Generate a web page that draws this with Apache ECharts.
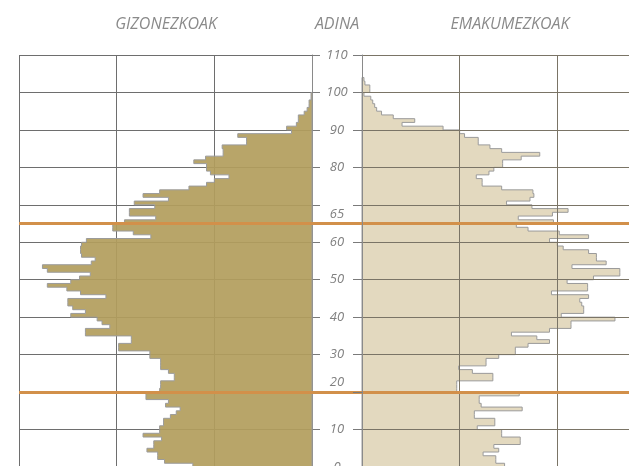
<!DOCTYPE html>
<html><head><meta charset="utf-8">
<script src="https://cdn.jsdelivr.net/npm/echarts@6/dist/echarts.min.js"></script>
<style>html,body{margin:0;padding:0;background:#fff}#c{width:629px;height:466px}</style>
</head><body><div id="c"></div>
<script>
// population by single year of age (index = age), units: gridline = 100
var men = [122,151,158,158,169,162,162,154,173,156,156,152,152,145,139,135,150,147,170,170,
156,155,155,141,141,147,155,155,155,166,166,198,198,185,185,232,232,207,215,220,
247,232,245,250,250,211,237,251,271,247,238,227,271,276,226,222,236,237,237,236,
231,165,183,204,204,192,160,187,187,161,182,147,173,156,126,108,100,85,104,108,
108,121,109,91,91,92,67,67,76,21,26,16,14,14,8,5,3,3,1,1];
var women = [146,137,137,124,140,135,162,162,143,143,118,136,136,115,115,164,122,120,120,161,
97,97,97,134,134,113,99,127,127,140,157,157,170,192,179,153,192,214,214,259,
204,227,227,225,223,232,194,231,231,210,237,264,264,215,250,240,240,232,206,200,
192,232,202,170,158,196,160,195,211,174,148,172,176,175,143,123,123,117,130,135,
144,144,163,182,143,131,119,119,105,100,83,41,54,32,20,15,13,11,9,2,8,8,3,2];
var yTicks = [0,10,20,30,40,50,60,70,80,90,100,110];
var yLabels = ['0','10','','30','40','50','60','','80','90','100','110'];
var refAges = [65, 20];
var refLabels = ['65', '20'];
var titles = ['GIZONEZKOAK', 'ADINA', 'EMAKUMEZKOAK'];

var font = "'Open Sans', sans-serif";
var chart = echarts.init(document.getElementById('c'));

function shape(arr, fill, stroke) {
  return function (params, api) {
    if (params.dataIndex !== 0) return null;
    var pts = [api.coord([0, 0])];
    for (var i = 0; i < arr.length; i++) {
      pts.push(api.coord([arr[i], i]));
      pts.push(api.coord([arr[i], i + 1]));
    }
    pts.push(api.coord([0, arr.length]));
    return {
      type: 'polygon',
      shape: { points: pts },
      style: { fill: fill, stroke: stroke, lineWidth: 1 }
    };
  };
}

var gridLine = { show: true, lineStyle: { color: '#6e6e6e', width: 1 } };
var titleStyle = { color: '#8a8a8a', fontStyle: 'italic', fontWeight: 'normal', fontSize: 16, fontFamily: font };

chart.setOption({
  animation: false,
  title: [
    { text: titles[0], left: 161, top: 11, textAlign: 'center', textStyle: titleStyle },
    { text: titles[1], left: 332, top: 11, textAlign: 'center', textStyle: titleStyle },
    { text: titles[2], left: 505, top: 11, textAlign: 'center', textStyle: titleStyle }
  ],
  grid: [
    { left: 19, width: 293, top: 55, height: 412, outerBoundsMode: 'none', containLabel: false },
    { left: 362, width: 293, top: 55, height: 412, outerBoundsMode: 'none', containLabel: false },
    { left: 19, width: 636, top: 55, height: 412, outerBoundsMode: 'none', containLabel: false }
  ],
  xAxis: [
    { gridIndex: 0, type: 'value', inverse: true, min: 0, max: 300, interval: 100,
      axisLine: { show: false }, axisTick: { show: false }, axisLabel: { show: false }, splitLine: gridLine },
    { gridIndex: 1, type: 'value', min: 0, max: 300, interval: 100, z: 5,
      axisLine: { show: false }, axisTick: { show: false }, axisLabel: { show: false }, splitLine: { show: true, lineStyle: { color: '#7a7466', width: 1 } } },
    { gridIndex: 2, type: 'value', min: 0, max: 1, show: false }
  ],
  yAxis: [
    { gridIndex: 0, type: 'value', position: 'right', min: 0, max: 110, interval: 10,
      axisLine: { show: true, lineStyle: { color: '#8a8a8a' } },
      axisTick: { show: true, length: 8, lineStyle: { color: '#7a7a7a' } },
      axisLabel: { show: true, margin: 25, align: 'center', color: '#808080', fontStyle: 'italic', fontSize: 13, fontFamily: font,
        formatter: function (v) { var k = yTicks.indexOf(v); return k < 0 ? '' : yLabels[k]; } },
      splitLine: gridLine },
    { gridIndex: 1, type: 'value', position: 'left', min: 0, max: 110, interval: 10, z: 5,
      axisLine: { show: true, lineStyle: { color: '#8a8a8a' } },
      axisTick: { show: true, length: 9, lineStyle: { color: '#7a7a7a' } },
      axisLabel: { show: false },
      splitLine: { show: true, lineStyle: { color: '#7a7466', width: 1 } } },
    { gridIndex: 2, type: 'value', min: 0, max: 110, show: false }
  ],
  series: [
    { type: 'custom', xAxisIndex: 0, yAxisIndex: 0, data: [[0, 0]], z: 2,
      renderItem: shape(men, 'rgba(178,157,92,0.92)', '#9b9b9b') },
    { type: 'custom', xAxisIndex: 1, yAxisIndex: 1, data: [[0, 0]], z: 2,
      renderItem: shape(women, '#e3d9bf', '#9b9b9b') },
    { type: 'line', xAxisIndex: 2, yAxisIndex: 2, data: [], z: 10,
      markLine: {
        silent: true, symbol: 'none', animation: false,
        lineStyle: { color: '#d2904a', width: 3, type: 'solid' },
        label: { show: true, position: 'insideMiddleTop', distance: 3, color: '#808080', fontStyle: 'italic', fontSize: 13, fontFamily: font,
          formatter: function (p) { return refLabels[refAges.indexOf(p.value)]; } },
        data: refAges.map(function (a) { return { yAxis: a }; })
      } }
  ]
});
</script></body></html>
